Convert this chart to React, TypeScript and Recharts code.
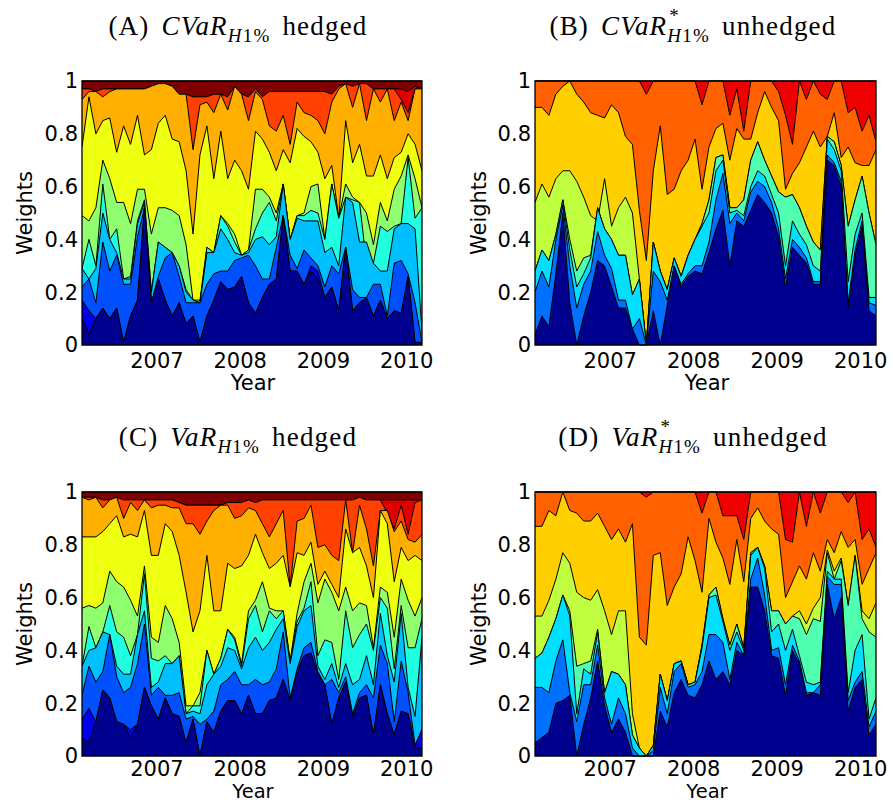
import { AreaChart, Area, XAxis, YAxis, ReferenceArea } from 'recharts';

// monthly observations, Feb 2006 .. Mar 2010
const N_MONTHS = 50;
const FIRST_MONTH = 2006.1;
const MONTHS = Array.from({ length: N_MONTHS }, (_, i) => FIRST_MONTH + i / 12);
const YEAR_TICKS = [2007, 2008, 2009, 2010];
const WEIGHT_TICKS = [0, 0.2, 0.4, 0.6, 0.8, 1];

// jet colours, bottom asset first
const JET11 = ['#00008F', '#0000EF', '#0050FF', '#00BFFF', '#20FFDF', '#8FFF70', '#EFFF10', '#FFAF00', '#FF4000', '#DF0000', '#800000'];
const JET8 = ['#00008F', '#0070FF', '#00DFFF', '#50FFAF', '#BFFF40', '#FFCF00', '#FF6000', '#EF0000'];

// cumulative weights (upper edge of each layer), panel A
const aNavy = [.10, .04, .10, .14, .10, .14, .01, .11, .17, .52, .16, .25, .17, .11, .16, .08, .11, .01, .11, .17, .24, .21, .22, .26, .16, .12, .18, .23, .25, .49, .28, .28, .23, .28, .25, .18, .22, .13, .37, .13, .16, .18, .11, .17, .10, .13, .12, .26, .01, .01];
const aBlue = [.17, .13, .10, .14, .10, .14, .01, .11, .17, .52, .16, .25, .17, .11, .16, .08, .11, .01, .11, .17, .24, .21, .22, .26, .16, .12, .18, .23, .25, .49, .28, .28, .23, .30, .28, .18, .22, .13, .37, .13, .16, .18, .11, .17, .10, .13, .12, .26, .01, .01];
const aMid = [.22, .25, .16, .39, .28, .34, .23, .23, .41, .52, .16, .26, .33, .35, .26, .16, .16, .16, .23, .27, .28, .28, .32, .33, .34, .30, .25, .25, .37, .49, .34, .29, .36, .33, .30, .22, .30, .27, .37, .21, .18, .18, .23, .23, .11, .31, .32, .27, .16, .01];
const aSky = [.29, .25, .29, .50, .40, .35, .25, .25, .46, .54, .20, .39, .37, .35, .30, .20, .17, .16, .35, .35, .44, .40, .35, .34, .35, .40, .41, .38, .41, .61, .40, .48, .47, .47, .47, .35, .37, .30, .56, .54, .39, .39, .31, .28, .28, .44, .46, .46, .44, .05];
const aAqua = [.29, .40, .30, .61, .40, .44, .25, .26, .47, .55, .20, .39, .37, .35, .30, .21, .17, .16, .37, .35, .49, .45, .39, .34, .36, .44, .50, .54, .47, .61, .40, .49, .49, .51, .50, .40, .61, .48, .56, .55, .54, .31, .31, .45, .43, .45, .46, .71, .48, .52];
const aGreen = [.49, .47, .52, .70, .63, .54, .54, .46, .59, .59, .42, .52, .52, .51, .49, .38, .17, .17, .37, .35, .49, .46, .42, .34, .36, .59, .59, .56, .50, .61, .40, .49, .50, .60, .61, .40, .61, .48, .61, .56, .54, .50, .38, .54, .47, .59, .64, .72, .63, .52];
const aYellow = [.75, .94, .80, .85, .86, .73, .83, .76, .87, .72, .74, .84, .87, .78, .77, .66, .42, .72, .83, .63, .81, .63, .70, .66, .59, .81, .78, .73, .66, .74, .69, .82, .79, .77, .73, .63, .68, .48, .85, .69, .76, .64, .64, .72, .63, .71, .73, .80, .76, .66];
const aOrange = [.93, .96, .96, .94, .96, .97, .97, .97, .97, .97, .98, .99, .99, .98, .95, .95, .74, .91, .92, .88, .95, .89, .98, .95, .85, .96, .93, .83, .81, .87, .76, .92, .88, .87, .85, .80, .92, .97, .99, .90, .99, .85, .97, .92, .97, .85, .92, .85, .97, .97];
const aRedOrange = [.97, .97, .96, .97, .97, .97, .97, .97, .97, .97, .98, .99, .99, .98, .95, .95, .94, .94, .94, .95, .95, .94, .98, .95, .94, .97, .94, .96, .96, .96, .96, .96, .96, .96, .96, .96, .95, .98, .99, .98, .99, .99, .97, .97, .97, .97, .93, .88, .97, .97];
const aRed = [.97, .97, .96, .97, .97, .97, .97, .97, .97, .97, .98, .99, .99, .98, .95, .95, .94, .94, .94, .95, .95, .94, .98, .95, .94, .97, .94, .96, .96, .96, .96, .96, .96, .96, .96, .96, .95, .98, .99, .98, .99, .99, .97, .97, .97, .97, .97, .96, .98, .97];

// panel B
const bNavy = [.04, .11, .07, .27, .50, .16, .00, .11, .20, .32, .30, .22, .14, .14, .06, .00, .00, .13, .00, .15, .30, .22, .26, .28, .27, .35, .44, .51, .30, .47, .45, .51, .57, .54, .50, .41, .22, .37, .34, .31, .23, .23, .70, .68, .60, .14, .34, .45, .13, .11];
const bMid = [.20, .28, .22, .40, .53, .30, .14, .23, .28, .43, .34, .29, .17, .17, .06, .10, .00, .28, .24, .17, .30, .23, .27, .30, .30, .39, .55, .65, .46, .50, .47, .58, .62, .60, .54, .44, .25, .40, .37, .33, .24, .24, .72, .69, .62, .16, .36, .47, .16, .15];
const bSky = [.28, .36, .32, .42, .55, .36, .22, .27, .33, .52, .44, .40, .34, .34, .19, .25, .00, .39, .28, .21, .33, .26, .34, .40, .45, .50, .66, .70, .50, .51, .49, .60, .66, .64, .57, .50, .30, .47, .42, .38, .30, .28, .78, .74, .66, .24, .42, .50, .18, .18];
const bGreen = [.28, .36, .32, .42, .55, .40, .28, .33, .34, .52, .44, .40, .34, .34, .19, .25, .00, .39, .28, .21, .33, .26, .34, .40, .46, .55, .71, .72, .52, .52, .55, .70, .77, .70, .64, .58, .56, .57, .52, .45, .39, .36, .79, .77, .68, .45, .55, .64, .50, .38];
const bLime = [.54, .61, .56, .63, .66, .66, .62, .56, .49, .47, .63, .45, .52, .56, .50, .25, .00, .39, .28, .21, .33, .26, .34, .40, .46, .55, .71, .72, .52, .52, .55, .70, .77, .70, .64, .58, .56, .57, .52, .45, .39, .36, .79, .77, .68, .45, .55, .64, .50, .38];
const bGold = [.90, .90, .87, .95, .98, 1.0, .95, .92, .88, .87, .86, .91, .88, .79, .76, .51, .32, .66, .83, .57, .59, .66, .70, .78, .59, .75, .82, .84, .70, .82, .78, .78, .88, .96, .90, .85, .59, .65, .69, .75, .81, .75, .79, .88, .71, .75, .69, .68, .68, .74];
const bOrange = [1, 1, 1, 1, 1, 1, 1, 1, 1, 1, 1, 1, 1, 1, 1, 1, .95, 1, 1, 1, 1, 1, 1, 1, .91, 1, 1, 1, .87, .97, .81, 1, 1, 1, 1, .96, .87, .76, 1, .93, 1, .95, .93, 1, 1, .88, .90, .81, .87, .77];

// panel C
const cNavy = [.07, .05, .13, .25, .22, .13, .12, .07, .12, .26, .19, .14, .22, .16, .15, .05, .14, .00, .13, .09, .17, .21, .21, .16, .23, .16, .16, .21, .22, .29, .21, .32, .38, .39, .31, .27, .12, .22, .28, .15, .22, .23, .08, .27, .16, .08, .17, .16, .03, .03];
const cBlue = [.14, .18, .13, .25, .22, .13, .12, .10, .12, .26, .19, .14, .22, .16, .15, .05, .14, .00, .13, .09, .17, .21, .21, .16, .23, .16, .16, .21, .22, .29, .21, .32, .38, .39, .31, .27, .12, .22, .28, .15, .22, .23, .08, .27, .16, .08, .17, .16, .04, .10];
const cMid = [.23, .34, .28, .32, .46, .30, .24, .26, .35, .50, .23, .26, .23, .23, .24, .14, .15, .12, .14, .17, .27, .29, .32, .27, .27, .29, .27, .28, .33, .47, .22, .33, .41, .43, .32, .27, .29, .24, .30, .16, .24, .27, .22, .42, .35, .13, .36, .24, .04, .10];
const cSky = [.34, .40, .41, .47, .46, .34, .31, .31, .46, .55, .26, .28, .35, .35, .38, .16, .17, .16, .27, .31, .34, .41, .40, .33, .41, .45, .40, .43, .48, .52, .35, .49, .55, .57, .34, .29, .35, .26, .35, .27, .29, .38, .27, .54, .38, .28, .54, .26, .15, .45];
const cAqua = [.34, .49, .41, .47, .57, .47, .45, .38, .46, .69, .37, .36, .38, .35, .38, .16, .19, .19, .40, .31, .37, .48, .44, .34, .52, .57, .47, .55, .52, .55, .36, .51, .56, .66, .38, .44, .43, .29, .55, .41, .46, .50, .40, .60, .56, .33, .57, .41, .41, .52];
const cGreen = [.56, .57, .56, .58, .70, .66, .64, .59, .53, .72, .45, .43, .57, .52, .43, .19, .19, .24, .40, .31, .37, .48, .45, .35, .55, .59, .66, .56, .55, .55, .36, .54, .66, .73, .58, .67, .62, .55, .64, .55, .58, .57, .41, .64, .62, .45, .67, .59, .53, .60];
const cYellow = [.83, .83, .83, .85, .88, .91, .83, .84, .83, .93, .76, .76, .88, .85, .76, .62, .47, .55, .76, .55, .55, .73, .71, .72, .76, .84, .77, .71, .73, .76, .64, .77, .76, .81, .65, .70, .65, .60, .86, .77, .79, .72, .60, .93, .88, .66, .79, .74, .76, .74];
const cOrange = [.98, .97, .98, .94, .97, .98, .90, .96, .93, .97, .94, .95, .95, .94, .94, .88, .88, .84, .89, .93, .95, .95, .90, .91, .94, .93, .88, .83, .88, .93, .64, .89, .90, .95, .79, .80, .76, .74, .97, .77, .95, .86, .72, .93, .93, .85, .89, .82, .81, .84];
const cRedOrange = [.98, .98, .98, .97, .97, .98, .97, .97, .97, .97, .97, .97, .97, .97, .96, .95, .95, .95, .95, .95, .95, .96, .96, .96, .97, .96, .97, .97, .97, .97, .97, .97, .97, .97, .97, .97, .97, .97, .97, .97, .98, .97, .97, .97, .92, .86, .95, .84, .96, .97];
const cRed = [.98, .98, .98, .97, .97, .98, .97, .97, .97, .97, .97, .97, .97, .97, .96, .95, .95, .95, .95, .95, .95, .96, .96, .96, .97, .96, .97, .97, .97, .97, .97, .97, .97, .97, .97, .97, .97, .97, .97, .97, .98, .97, .97, .97, .97, .97, .97, .97, .97, .97];

// panel D
const dNavy = [.05, .07, .09, .20, .21, .23, .00, .12, .22, .36, .19, .09, .14, .09, .00, .00, .00, .00, .17, .11, .24, .29, .23, .22, .27, .36, .29, .32, .27, .40, .38, .64, .64, .55, .38, .37, .23, .40, .35, .23, .24, .23, .65, .52, .60, .17, .26, .29, .08, .12];
const dMid = [.26, .26, .24, .36, .44, .24, .13, .27, .27, .42, .22, .12, .22, .16, .03, .00, .00, .02, .26, .16, .32, .35, .26, .27, .32, .46, .46, .43, .29, .43, .38, .67, .75, .61, .40, .41, .27, .42, .36, .24, .24, .27, .68, .65, .65, .21, .28, .32, .11, .17];
const dSky = [.37, .39, .45, .52, .61, .53, .16, .33, .31, .47, .24, .32, .31, .27, .08, .03, .00, .04, .31, .21, .35, .36, .27, .28, .41, .60, .61, .51, .40, .47, .40, .76, .79, .71, .47, .50, .40, .48, .38, .28, .27, .28, .70, .67, .67, .24, .40, .46, .14, .22];
const dGreen = [.37, .39, .45, .52, .61, .55, .34, .35, .36, .48, .24, .32, .31, .27, .08, .03, .00, .04, .31, .21, .35, .36, .27, .28, .42, .61, .64, .52, .42, .50, .41, .77, .79, .72, .55, .55, .50, .53, .52, .46, .52, .51, .77, .67, .74, .57, .76, .52, .47, .45];
const dLime = [.53, .53, .59, .67, .77, .73, .62, .60, .59, .63, .55, .46, .55, .55, .16, .03, .00, .04, .31, .21, .35, .36, .27, .28, .42, .61, .64, .52, .42, .50, .41, .77, .79, .72, .55, .55, .50, .53, .55, .50, .56, .60, .78, .70, .75, .57, .76, .55, .52, .58];
const dGold = [.87, .87, .93, .91, 1.0, .93, .92, .89, .89, .92, .87, .82, .86, .81, .88, .45, .42, .76, .77, .57, .64, .69, .83, .74, .62, .90, .81, .75, .65, .82, .66, .90, .94, .89, .86, .84, .60, .66, .72, .67, .77, .70, .82, .77, .85, .79, .82, .65, .71, .77];
const dOrange = [1, 1, 1, 1, 1, 1, 1, 1, 1, 1, 1, 1, 1, 1, 1, 1, .98, 1, 1, 1, 1, 1, 1, 1, .92, 1, 1, .91, .91, .91, .82, 1, 1, 1, 1, 1, .82, .81, 1, .87, 1, .92, 1, 1, 1, .96, 1, .82, .86, .79];

const PLOT_H = 264;
const TOP_PAD = 20;
const AXIS_FONT = { fontFamily: '"DejaVu Sans", sans-serif', fontSize: 21, fill: '#000' };
const LABEL_FONT = '"DejaVu Sans", sans-serif';
const TITLE_FONT = '"Liberation Serif", "Times New Roman", serif';

function StackPanel({ left, top, width, bounds, colors, xGap = 8 }: { left: number; top: number; width: number; bounds: number[][]; colors: string[]; xGap?: number }) {
  const data = MONTHS.map((t, i) => {
    const row: Record<string, number> = { t };
    bounds.forEach((b, k) => {
      row['b' + k] = b[i];
    });
    return row;
  });
  const chartW = width + 100;
  const chartH = 340;
  const topColor = colors[colors.length - 1];
  // paint from the top layer down: each area fills 0..its upper edge
  const order = bounds.map((_, k) => bounds.length - 1 - k);
  return (
    <div style={{ position: 'absolute', left: left - 80, top: top - TOP_PAD }}>
      <AreaChart
        width={chartW}
        height={chartH}
        data={data}
        margin={{ top: TOP_PAD, right: 20, bottom: chartH - TOP_PAD - PLOT_H - 40, left: 0 }}
      >
        <XAxis
          dataKey="t"
          type="number"
          domain={[MONTHS[0], MONTHS[N_MONTHS - 1]]}
          allowDataOverflow
          ticks={YEAR_TICKS}
          interval={0}
          height={40}
          tickSize={0}
          tickMargin={xGap}
          axisLine={false}
          tick={AXIS_FONT}
        />
        <YAxis
          type="number"
          domain={[0, 1]}
          ticks={WEIGHT_TICKS}
          interval={0}
          width={80}
          tickSize={0}
          tickMargin={4}
          axisLine={false}
          tick={AXIS_FONT}
        />
        <Area
          dataKey={() => 1}
          type="linear"
          stroke="#000"
          strokeWidth={1}
          fill={topColor}
          fillOpacity={1}
          dot={false}
          activeDot={false}
          isAnimationActive={false}
        />
        {order.map((k) => (
          <Area
            key={k}
            dataKey={'b' + k}
            type="linear"
            stroke="#000"
            strokeWidth={1}
            fill={colors[k]}
            fillOpacity={1}
            dot={false}
            activeDot={false}
            isAnimationActive={false}
          />
        ))}
        <ReferenceArea
          x1={MONTHS[0]}
          x2={MONTHS[N_MONTHS - 1]}
          y1={0}
          y2={1}
          fill="none"
          stroke="#000"
          strokeWidth={1.3}
        />
      </AreaChart>
    </div>
  );
}

function PanelTitle({ cx, top, tag, measure, starred }: { cx: number; top: number; tag: string; measure: string; starred: boolean }) {
  return (
    <div
      style={{
        position: 'absolute',
        left: cx - 220,
        width: 440,
        top,
        textAlign: 'center',
        fontFamily: TITLE_FONT,
        fontSize: 27,
        letterSpacing: 1.2,
        wordSpacing: 4,
        lineHeight: '30px',
        whiteSpace: 'nowrap',
      }}
    >
      {tag} <i>{measure}</i>
      <span style={{ position: 'relative', fontSize: 19, lineHeight: 1, verticalAlign: '-7px' }}>
        {starred && (
          <span style={{ position: 'absolute', left: 2, top: -15, lineHeight: '11px', height: 11 }}>*</span>
        )}
        <i>H</i>1%
      </span>{' '}
      {starred ? 'unhedged' : 'hedged'}
    </div>
  );
}

function WeightsLabel({ cx, cy }: { cx: number; cy: number }) {
  return (
    <div
      style={{
        position: 'absolute',
        left: cx - 60,
        top: cy - 12,
        width: 120,
        height: 24,
        lineHeight: '24px',
        textAlign: 'center',
        transform: 'rotate(-90deg)',
        fontFamily: LABEL_FONT,
        fontSize: 21,
      }}
    >
      Weights
    </div>
  );
}

function YearLabel({ cx, cy, size = 21 }: { cx: number; cy: number; size?: number }) {
  return (
    <div
      style={{
        position: 'absolute',
        left: cx - 50,
        top: cy - 9,
        width: 100,
        height: 18,
        lineHeight: '18px',
        textAlign: 'center',
        fontFamily: LABEL_FONT,
        fontSize: size,
      }}
    >
      Year
    </div>
  );
}

export default function App() {
  return (
    <div style={{ position: 'absolute', left: 0, top: 0, width: 893, height: 803, background: '#fff' }}>
      <PanelTitle cx={238} top={11} tag="(A)" measure="CVaR" starred={false} />
      <PanelTitle cx={693} top={11} tag="(B)" measure="CVaR" starred />
      <PanelTitle cx={238} top={422} tag="(C)" measure="VaR" starred={false} />
      <PanelTitle cx={693} top={422} tag="(D)" measure="VaR" starred />

      <StackPanel
        left={82}
        top={81}
        width={340}
        colors={JET11}
        bounds={[aNavy, aBlue, aMid, aSky, aAqua, aGreen, aYellow, aOrange, aRedOrange, aRed]}
      />
      <StackPanel
        left={535}
        top={81}
        width={341}
        colors={JET8}
        bounds={[bNavy, bMid, bSky, bGreen, bLime, bGold, bOrange]}
      />
      <StackPanel
        left={82}
        top={492}
        width={340}
        colors={JET11}
        xGap={5}
        bounds={[cNavy, cBlue, cMid, cSky, cAqua, cGreen, cYellow, cOrange, cRedOrange, cRed]}
      />
      <StackPanel
        left={535}
        top={492}
        width={341}
        colors={JET8}
        xGap={5}
        bounds={[dNavy, dMid, dSky, dGreen, dLime, dGold, dOrange]}
      />

      <WeightsLabel cx={25} cy={213} />
      <WeightsLabel cx={479} cy={213} />
      <WeightsLabel cx={25} cy={624} />
      <WeightsLabel cx={479} cy={624} />

      <YearLabel cx={253} cy={383} />
      <YearLabel cx={707} cy={383} />
      <YearLabel cx={253} cy={791.5} size={19.5} />
      <YearLabel cx={707} cy={791.5} size={19.5} />
    </div>
  );
}
